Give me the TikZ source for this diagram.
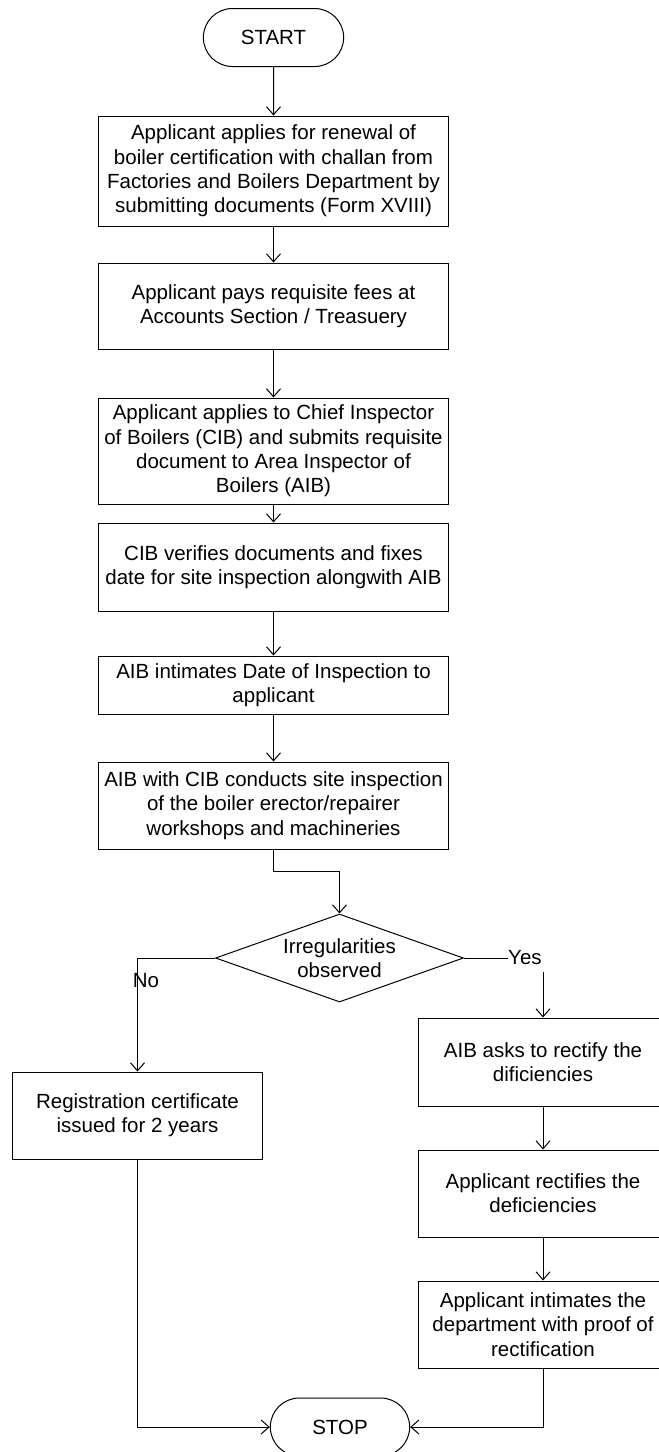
\documentclass[tikz,border=0pt]{standalone}
\usepackage{fontspec}
\setmainfont{Liberation Sans}
\usepackage{tikz}
\usetikzlibrary{shapes.geometric}
\usetikzlibrary{shapes.misc}
\usetikzlibrary{arrows.meta}

\begin{document}
\begin{tikzpicture}[x=1pt,y=-1pt,font=\fontsize{20.5}{24.3}\selectfont]
% définition des paramètres
\tikzstyle boiteflux=[draw,rectangle,line width=1pt,align=center,inner sep=2pt,minimum width=350pt]
\tikzstyle boitecote=[boiteflux,minimum width=250pt]
\tikzstyle borneflux=[draw,rounded rectangle,line width=1pt,minimum width=147pt,minimum height=58pt]
\tikzstyle testflux=[draw,diamond,line width=1pt,align=center,inner sep=0pt,shape aspect=2.82,minimum width=248pt,minimum height=88pt]
\tikzstyle lienflux=[line width=1pt,-{Straight Barb[length=8pt,width=14pt]}]
\tikzstyle traitflux=[line width=1pt]
\newcommand{\colx}{273.5}  % colonne principale
\newcommand{\gauchex}{137.5} % colonne de gauche
\newcommand{\droitex}{543}   % colonne de droite

% le cadre
\useasboundingbox (0,0) rectangle (659,1452);

% la colonne principale
\node[borneflux] (debut) at (\colx,37.5) {START};
\node[boiteflux,minimum height=110pt] (demande) at (\colx,171) {Applicant applies for renewal of\\ boiler certification with challan from\\ Factories and Boilers Department by\\ submitting documents (Form XVIII)};
\node[boiteflux,minimum height=86pt] (frais) at (\colx,306) {Applicant pays requisite fees at\\ Accounts Section / Treasuery};
\node[boiteflux,minimum height=106pt] (cib) at (\colx,451) {Applicant applies to Chief Inspector\\ of Boilers (CIB) and submits requisite\\ document to Area Inspector of\\ Boilers (AIB)};
\node[boiteflux,minimum height=88pt] (verif) at (\colx,567) {CIB verifies documents and fixes\\ date for site inspection alongwith AIB};
\node[boiteflux,minimum height=58pt] (date) at (\colx,685) {AIB intimates Date of Inspection to\\ applicant};
\node[boiteflux,minimum height=87pt] (visite) at (\colx,805.5) {AIB with CIB conducts site inspection\\ of the boiler erector/repairer\\ workshops and machineries};

% le test
\node[testflux] (test) at (339.5,958) {Irregularities\\ observed};
\node (non) at (146,981) {No};
\node[anchor=west,inner sep=0pt] (oui) at (508,958) {Yes};
\coordinate (ouibas) at (\droitex,972);

% les deux branches
\node[boitecote,minimum height=87pt] (certif) at (\gauchex,1115.5) {Registration certificate\\ issued for 2 years};
\node[boitecote,minimum height=88pt] (rectif) at (\droitex,1062) {AIB asks to rectify the\\ dificiencies};
\node[boitecote,minimum height=87pt] (corrige) at (\droitex,1193.5) {Applicant rectifies the\\ deficiencies};
\node[boitecote,minimum height=87pt] (preuve) at (\droitex,1324.5) {Applicant intimates the\\ department with proof of\\ rectification};
\node[borneflux,minimum width=146pt] (fin) at (340,1427) {STOP};

% les flèches
\draw[lienflux] (debut) -- (demande);
\draw[lienflux] (demande) -- (frais);
\draw[lienflux] (frais) -- (cib);
\draw[lienflux] (cib) -- (verif);
\draw[lienflux] (verif) -- (date);
\draw[lienflux] (date) -- (visite);
\draw[lienflux] (visite.south) -- ++(0,22) -| (test.north);
\draw[lienflux] (test.west) -| (certif.north);
\draw[traitflux] (test.east) -- (oui.west);
\draw[lienflux] (ouibas) -- (rectif.north);
\draw[lienflux] (rectif) -- (corrige);
\draw[lienflux] (corrige) -- (preuve);
\draw[lienflux] (certif.south) |- (fin.west);
\draw[lienflux] (preuve.south) |- (fin.east);
\end{tikzpicture}
\end{document}
